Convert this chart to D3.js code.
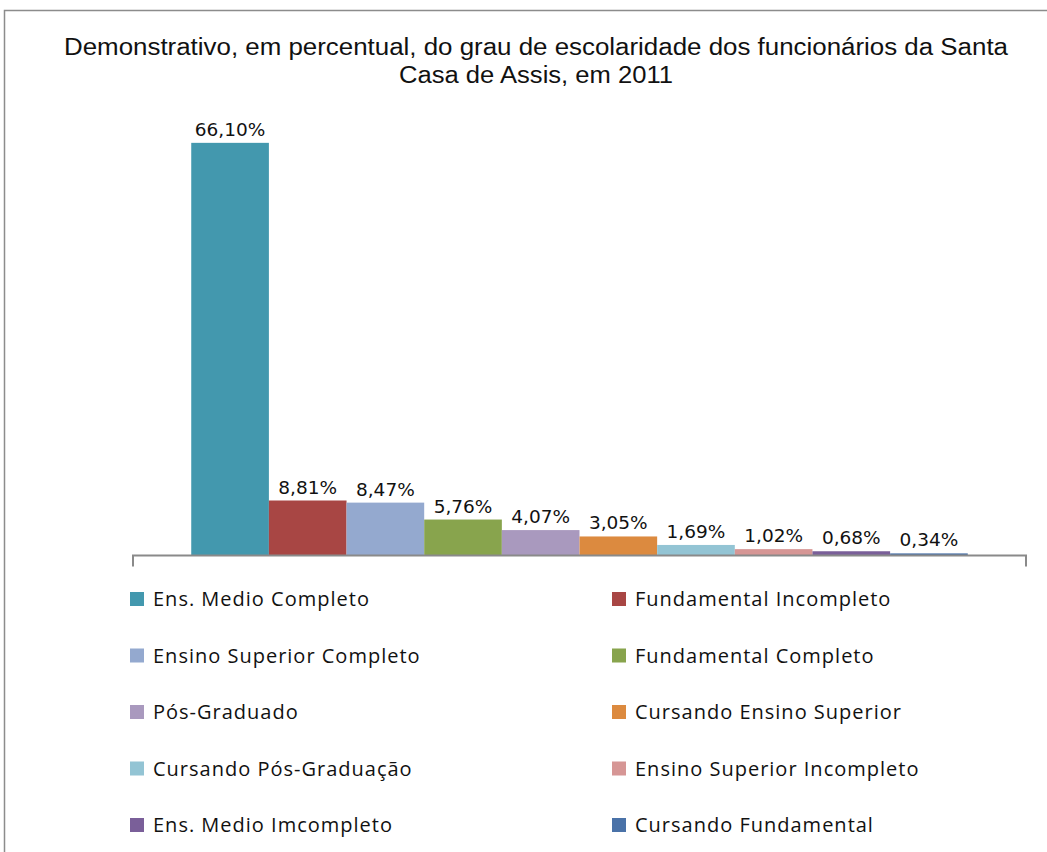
<!DOCTYPE html>
<html>
<head>
<meta charset="utf-8">
<script src="https://cdn.jsdelivr.net/npm/d3@7"></script>
<style>
  html, body { margin: 0; padding: 0; background: #fff; }
  svg { display: block; }
</style>
</head>
<body>
<svg id="chart" width="1047" height="852"></svg>
<script>
// categories and values
const categories = [
  'Ens. Medio Completo', 'Fundamental Incompleto', 'Ensino Superior Completo',
  'Fundamental Completo', 'Pós-Graduado', 'Cursando Ensino Superior',
  'Cursando Pós-Graduação', 'Ensino Superior Incompleto',
  'Ens. Medio Imcompleto', 'Cursando Fundamental'
];
const values = [66.10, 8.81, 8.47, 5.76, 4.07, 3.05, 1.69, 1.02, 0.68, 0.34];
const colors = [
  '#4398AE', '#A84644', '#94A9CF', '#88A44D', '#A999BE',
  '#DC8A3F', '#93C4D4', '#D69695', '#7A5F99', '#4A72A8'
];
const titleLines = [
  'Demonstrativo, em percentual, do grau de escolaridade dos funcionários da Santa',
  'Casa de Assis, em 2011'
];
const titleWidths = [944, 274];

const svg = d3.select('#chart');

// outer frame
svg.append('rect')
  .attr('x', 4.5).attr('y', 10.5)
  .attr('width', 1060).attr('height', 860)
  .attr('fill', 'none')
  .attr('stroke', '#8c8c8c')
  .attr('stroke-width', 1.5);

svg.selectAll('text.title')
  .data(titleLines)
  .join('text')
  .attr('class', 'title')
  .attr('x', 536)
  .attr('y', (d, i) => 55 + i * 28)
  .attr('text-anchor', 'middle')
  .attr('textLength', (d, i) => titleWidths[i])
  .attr('lengthAdjust', 'spacingAndGlyphs')
  .style('font', '23px "Liberation Sans", Arial, sans-serif')
  .attr('fill', '#111')
  .text(d => d);

// plot area
const plot = { left: 133, right: 1026, bottom: 555.5 };
const y = d3.scaleLinear().domain([0, 70]).range([plot.bottom, plot.bottom - 437]);
const x = d3.scaleBand()
  .domain(d3.range(categories.length))
  .range([plot.left, plot.right])
  .paddingInner(0)
  .paddingOuter(0.75);

const g = svg.append('g');

g.selectAll('rect.bar')
  .data(values)
  .join('rect')
  .attr('class', 'bar')
  .attr('x', (d, i) => x(i))
  .attr('width', x.bandwidth())
  .attr('y', d => y(d))
  .attr('height', d => plot.bottom - y(d))
  .attr('fill', (d, i) => colors[i]);

g.selectAll('text.lbl')
  .data(values)
  .join('text')
  .attr('class', 'lbl')
  .attr('x', (d, i) => x(i) + x.bandwidth() / 2)
  .attr('y', d => y(d) - 7)
  .attr('text-anchor', 'middle')
  .style('font', '18.5px "DejaVu Sans", Verdana, sans-serif')
  .attr('fill', '#111')
  .text(d => d.toFixed(2).replace('.', ',') + '%');

// category axis: baseline with end ticks
g.append('path')
  .attr('d', `M${plot.left},${plot.bottom + 11}V${plot.bottom}H${plot.right}V${plot.bottom + 11}`)
  .attr('fill', 'none')
  .attr('stroke', '#8a8a8a')
  .attr('stroke-width', 2);

// legend: two columns, five rows
const legend = svg.append('g')
  .selectAll('g')
  .data(categories)
  .join('g')
  .attr('transform', (d, i) => `translate(${i % 2 ? 612 : 130},${599 + Math.floor(i / 2) * 56.5})`);

legend.append('rect')
  .attr('x', 0).attr('y', -7)
  .attr('width', 14).attr('height', 14)
  .attr('fill', (d, i) => colors[i]);

legend.append('text')
  .attr('x', 23).attr('y', 7)
  .style('font', '20px "Open Sans", sans-serif')
  .style('letter-spacing', '1px')
  .attr('fill', '#111')
  .text(d => d);
</script>
</body>
</html>
